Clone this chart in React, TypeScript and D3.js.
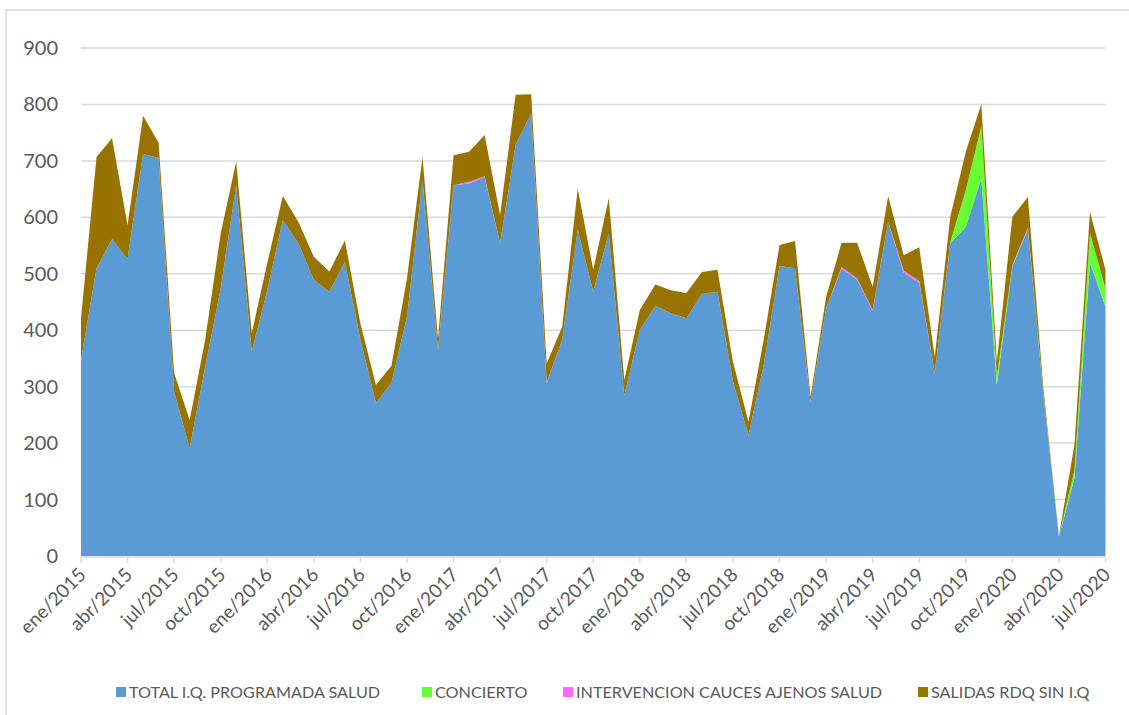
import React from "react";
import * as d3 from "d3";

const monthNames = ["ene", "feb", "mar", "abr", "may", "jun", "jul", "ago", "sep", "oct", "nov", "dic"];
const months: string[] = [];
for (let y = 2015; y <= 2020; y++) {
  for (let m = 0; m < 12; m++) {
    if (y === 2020 && m > 6) break;
    months.push(`${monthNames[m]}/${y}`);
  }
}

const totalIQ = [
  347, 510, 561, 526, 712, 705, 291, 191, 335, 474, 657, 362,
  471, 595, 554, 489, 468, 521, 383, 271, 307, 424, 666, 365,
  657, 660, 671, 554, 728, 784, 306, 383, 578, 468, 572, 284,
  401, 443, 430, 421, 464, 468, 309, 214, 341, 514, 510, 273,
  439, 509, 490, 434, 592, 502, 484, 324, 554, 583, 669, 303,
  513, 579, 285, 34, 138, 519, 442,
];
const concierto = [
  0, 0, 0, 0, 0, 0, 0, 0, 0, 0, 0, 0,
  0, 0, 0, 0, 0, 0, 0, 0, 0, 0, 0, 0,
  0, 0, 0, 0, 0, 0, 0, 0, 0, 0, 0, 0,
  0, 0, 0, 0, 0, 0, 0, 0, 0, 0, 0, 0,
  0, 0, 0, 0, 0, 0, 0, 0, 2, 65, 92, 15,
  2, 0, 2, 1, 14, 53, 32,
];
const intervencion = [
  0, 0, 0, 0, 0, 0, 0, 0, 0, 0, 0, 0,
  0, 0, 0, 0, 0, 0, 0, 0, 0, 0, 0, 0,
  0, 3, 2, 0, 0, 0, 1, 0, 0, 0, 0, 0,
  0, 0, 0, 0, 0, 0, 0, 0, 0, 0, 0, 0,
  0, 3, 2, 2, 0, 4, 3, 0, 0, 0, 0, 0,
  0, 3, 0, 0, 0, 0, 0,
];
const salidasTotalTop = [
  421, 707, 740, 586, 780, 732, 324, 241, 383, 572, 699, 395,
  519, 638, 592, 530, 504, 559, 412, 303, 337, 492, 707, 385,
  710, 716, 746, 604, 817, 818, 341, 406, 651, 507, 634, 312,
  436, 481, 471, 466, 503, 507, 344, 238, 386, 551, 558, 282,
  459, 555, 555, 477, 638, 533, 547, 353, 601, 716, 801, 344,
  601, 636, 297, 36, 197, 610, 507,
];
const salidas = salidasTotalTop.map((t, i) =>
  Math.max(0, t - totalIQ[i] - concierto[i] - intervencion[i])
);

const seriesKeys = ["total", "concierto", "intervencion", "salidas"];
const seriesNames = [
  "TOTAL I.Q. PROGRAMADA SALUD",
  "CONCIERTO",
  "INTERVENCION CAUCES AJENOS SALUD",
  "SALIDAS RDQ SIN I.Q",
];
const seriesColors = ["#5B9BD5", "#66FF33", "#FF66FF", "#997300"];
const yTicks = [0, 100, 200, 300, 400, 500, 600, 700, 800, 900];

export default function App() {
  const W = 1129;
  const H = 715;
  const x0 = 81;
  const x1 = 1105.5;
  const yBottom = 556;
  const yTop = 48;

  const rows = months.map((m, i) => ({
    idx: i,
    total: totalIQ[i],
    concierto: concierto[i],
    intervencion: intervencion[i],
    salidas: salidas[i],
  }));

  const x = d3.scaleLinear().domain([0, months.length - 1]).range([x0, x1]);
  const y = d3.scaleLinear().domain([0, 900]).range([yBottom, yTop]);

  const stacked = d3.stack<any>().keys(seriesKeys)(rows);
  const area = d3
    .area<any>()
    .x((d) => x(d.data.idx))
    .y0((d) => y(d[0]))
    .y1((d) => y(d[1]));

  const font = "Lato, 'Open Sans', sans-serif";
  const tickIdx = months.map((_, i) => i).filter((i) => i % 3 === 0);

  const legendX = [116, 422, 563, 918];

  return (
    <svg
      width={W}
      height={H}
      style={{ position: "absolute", left: 0, top: 0, background: "#fff" }}
      fontFamily={font}
    >
      <rect x={6} y={10} width={W + 20} height={H + 20} fill="#fff" stroke="#d9d9d9" strokeWidth={1.5} />
      {yTicks.map((t) => (
        <g key={t}>
          {t > 0 && (
            <line x1={x0} x2={x1} y1={y(t)} y2={y(t)} stroke="#d9d9d9" strokeWidth={1.5} />
          )}
          <text
            x={58}
            y={y(t)}
            dy="0.35em"
            textAnchor="end"
            fontSize={20}
            fill="#595959"
          >
            {t}
          </text>
        </g>
      ))}
      {stacked.map((s, k) => (
        <path key={seriesKeys[k]} d={area(s) || ""} fill={seriesColors[k]} />
      ))}
      <line x1={x0} x2={x1} y1={yBottom + 1} y2={yBottom + 1} stroke="#d9d9d9" strokeWidth={1.5} />
      {tickIdx.map((i) => (
        <g key={i}>
          <line x1={x(i)} x2={x(i)} y1={yBottom + 1} y2={yBottom + 7} stroke="#d9d9d9" strokeWidth={1.5} />
          <text
            transform={`translate(${x(i) + 6},${yBottom + 20}) rotate(-45)`}
            textAnchor="end"
            fontSize={19}
            fill="#595959"
          >
            {months[i]}
          </text>
        </g>
      ))}
      {seriesNames.map((n, k) => (
        <g key={n}>
          <rect x={legendX[k]} y={687} width={10} height={10} fill={seriesColors[k]} />
          <text x={legendX[k] + 13} y={692} dy="0.35em" fontSize={16.2} fill="#595959">
            {n}
          </text>
        </g>
      ))}
    </svg>
  );
}
